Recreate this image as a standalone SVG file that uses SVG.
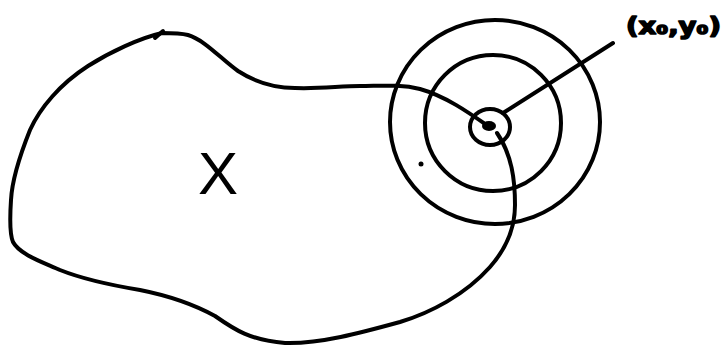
<svg xmlns="http://www.w3.org/2000/svg" width="726" height="348" viewBox="0 0 726 348">
<style>
.ink{fill:none;stroke:#000;stroke-width:4;stroke-linecap:round;stroke-linejoin:round}
.lbl{font-family:"DejaVu Sans","Liberation Sans",sans-serif;font-weight:bold;fill:#000;stroke:#000;stroke-width:1.6;stroke-linejoin:round}
.big{font-family:"Liberation Sans",Arial,sans-serif;fill:#000}
</style>
<rect width="726" height="348" fill="#fff"/>
<g id="region">
<path class="ink" d="M488,126 C468,112 445,96 420,89 C400,84 380,86 360,86 C340,86 320,89 295,88 C275,88 255,82 238,71 C222,60 205,40 188,35 C180,33 170,33 162,33 C140,38 110,52 88,66 C60,84 40,108 30,130 C20,155 12,180 11,200 C10,215 10,235 13,242 C20,255 45,263 60,270 C85,280 110,285 140,290 C170,296 195,305 215,316 C235,330 250,340 285,343 C320,344 360,333 400,322 C430,313 465,295 490,267 C505,250 515,230 515,205 C515,180 512,155 497,133"/>
<path class="ink" d="M155,38 L163,31"/>
<text class="big" x="218" y="194" font-size="60" text-anchor="middle">X</text>
</g>
<g id="target">
<ellipse class="ink" cx="495" cy="122" rx="105" ry="102"/>
<ellipse class="ink" cx="493" cy="123" rx="68" ry="68"/>
<ellipse class="ink" cx="490" cy="127" rx="20" ry="18"/>
<ellipse cx="489" cy="126" rx="7" ry="5" fill="#000"/>
<circle cx="421" cy="164" r="2.5" fill="#000"/>
</g>
<g id="connectors">
<path class="ink" d="M503,113 L613,43"/>
</g>
<g id="label">
<text class="lbl" x="626" y="34" font-size="23" textLength="95" lengthAdjust="spacingAndGlyphs">(x₀,y₀)</text>
</g>
</svg>
